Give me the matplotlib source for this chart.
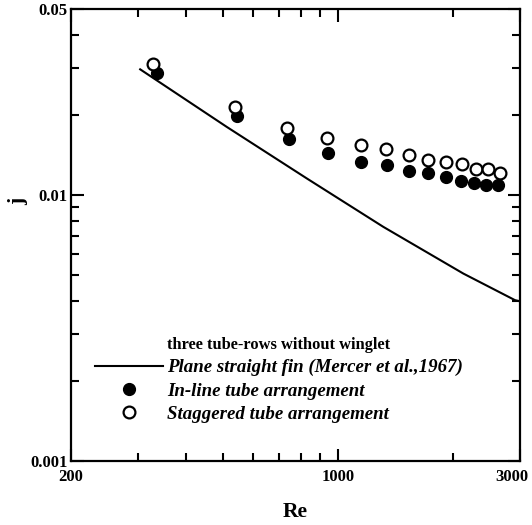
import numpy as np
import matplotlib
matplotlib.use("Agg")
import matplotlib.pyplot as plt
import matplotlib.transforms as mtransforms
from matplotlib.ticker import FixedLocator, NullFormatter

plt.rcParams['font.family'] = ['Liberation Serif', 'DejaVu Serif']
plt.rcParams['font.weight'] = 'bold'

# plane straight fin correlation (Mercer et al., 1967)
re_fin = [304, 512, 830, 1316, 2132, 2911, 3000]
j_fin = [0.0296, 0.0180, 0.01152, 0.00758, 0.00506, 0.00402, 0.00398]

# in-line tube arrangement (filled)
re_inline = [336, 544, 747, 945, 1149, 1344, 1537, 1727, 1917, 2098, 2274, 2446, 2624]
j_inline = [0.0286, 0.01975, 0.01614, 0.0143, 0.01323, 0.01292, 0.01227,
            0.01203, 0.01168, 0.01126, 0.01103, 0.01087, 0.01087]

# staggered tube arrangement (open)
re_stag = [329, 538, 735, 936, 1149, 1338, 1537, 1727, 1917, 2120, 2297, 2480, 2660]
j_stag = [0.0310, 0.0213, 0.01776, 0.01629, 0.01537, 0.01485, 0.01409,
          0.01350, 0.0133, 0.0130, 0.01245, 0.01245, 0.01203]

x_major = [200, 1000, 3000]
x_minor = [300, 400, 500, 600, 700, 800, 900, 2000]
y_major = [0.001, 0.01, 0.05]
y_minor = [0.002, 0.003, 0.004, 0.005, 0.006, 0.007, 0.008, 0.009, 0.02, 0.03, 0.04]

fig = plt.figure(figsize=(5.32, 5.25), dpi=100)
ax = fig.add_axes([0.1329, 0.1219, 0.8445, 0.8615])

ax.plot(re_fin, j_fin, color='black', lw=1.5,
        label='Plane straight fin (Mercer et al.,1967)')
ax.plot(re_inline, j_inline, 'o', color='black', ms=8.5, lw=0,
        label='In-line tube arrangement')
ax.plot(re_stag, j_stag, 'o', mfc='white', mec='black', mew=1.6, ms=8.5, lw=0,
        label='Staggered tube arrangement')

ax.set_xscale('log')
ax.set_yscale('log')
ax.set_xlim(200, 3000)
ax.set_ylim(0.001, 0.05)

ax.xaxis.set_major_locator(FixedLocator(x_major))
ax.xaxis.set_minor_locator(FixedLocator(x_minor))
ax.yaxis.set_major_locator(FixedLocator(y_major))
ax.yaxis.set_minor_locator(FixedLocator(y_minor))
ax.set_xticklabels([str(v) for v in x_major])
ax.set_yticklabels(['0.001', '0.01', '0.05'])
ax.xaxis.set_minor_formatter(NullFormatter())
ax.yaxis.set_minor_formatter(NullFormatter())

ax.tick_params(which='both', direction='in', top=True, right=True, width=1.5,
               labelsize=12)
ax.tick_params(which='major', length=9)
ax.tick_params(which='minor', length=6)
ax.tick_params(axis='y', which='major', pad=2)
ax.tick_params(axis='x', which='major', pad=6)
for s in ax.spines.values():
    s.set_linewidth(1.6)

# keep the last x label inside the figure
lab = ax.get_xticklabels()[-1]
lab.set_transform(lab.get_transform() +
                  mtransforms.ScaledTranslation(-6 / 72, 0, fig.dpi_scale_trans))

ax.set_xlabel('Re', fontsize=15.5, fontweight='bold')
ax.set_ylabel('j', fontsize=15.5, fontweight='bold')
ax.xaxis.label.set_va('center')
ax.yaxis.label.set_va('center')
ax.xaxis.set_label_coords(0.5, -0.112)
ax.yaxis.set_label_coords(-0.117, 0.575)

leg = ax.legend(loc='upper left', bbox_to_anchor=(0.054, 0.274), frameon=False,
                borderpad=0, borderaxespad=0, handlelength=3.6, handletextpad=0.2,
                labelspacing=0.32,
                title='three tube-rows without winglet',
                prop={'style': 'italic', 'weight': 'bold', 'size': 13.6},
                title_fontproperties={'weight': 'bold', 'size': 11.8})

fig.savefig('out.png', dpi=100)
